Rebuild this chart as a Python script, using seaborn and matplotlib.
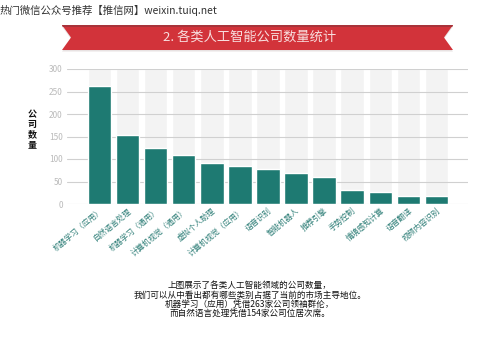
import matplotlib
matplotlib.use("Agg")
import matplotlib.pyplot as plt
from matplotlib.patches import Polygon
import seaborn as sns
import pandas as pd

categories = ["机器学习（应用）", "自然语言处理", "机器学习（通用）", "计算机视觉（通用）",
              "虚拟个人助理", "计算机视觉（应用）", "语音识别", "智能机器人", "推荐引擎",
              "手势控制", "情境感知计算", "语音翻译", "视频内容识别"]
values = [263, 154, 124, 108, 92, 85, 78, 68, 61, 32, 27, 17, 17]
yticks = [0, 50, 100, 150, 200, 250, 300]

title = "2. 各类人工智能公司数量统计"
watermark = "热门微信公众号推荐【推信网】weixin.tuiq.net"
ylabel = "公\n司\n数\n量"
caption = ["上图展示了各类人工智能领域的公司数量，",
           "我们可以从中看出都有哪些类别占据了当前的市场主导地位。",
           "机器学习（应用）凭借263家公司领袖群伦，",
           "而自然语言处理凭借154家公司位居次席。"]

sns.set_theme(style="white")
plt.rcParams['font.family'] = ['Noto Sans CJK SC', 'DejaVu Sans']

W, H = 500, 359
fig = plt.figure(figsize=(5.0, 3.59), dpi=100)
fig.patch.set_facecolor("white")

def fx(px):
    return px / W

def fy(py):
    return 1 - py / H

ax = fig.add_axes([fx(67), fy(204), fx(468) - fx(67), fy(69) - fy(204)])

df = pd.DataFrame({"cat": categories, "val": values, "bg": [max(yticks)] * len(categories)})
sns.barplot(data=df, x="cat", y="bg", color="#f3f3f3", width=0.84, ax=ax,
            saturation=1, zorder=1)
sns.barplot(data=df, x="cat", y="val", color="#1e7a72", width=0.84, ax=ax,
            saturation=1, zorder=3)

ax.set_ylim(0, 300)
ax.set_xlim(-1.15, 13.12)
ax.set_yticks(yticks)
ax.set_yticklabels([str(t) for t in yticks], fontsize=6, color="#bbbbbb")
for t in yticks:
    ax.axhline(t, color="#d0d0d0", lw=0.8, zorder=2)
ax.set_xlabel("")
ax.set_ylabel("")
ax.tick_params(axis="y", length=0, pad=3)
ax.tick_params(axis="x", length=0, pad=2)
ax.set_xticks(range(len(categories)))
ax.set_xticklabels(categories, rotation=40, ha="right", rotation_mode="anchor",
                   fontsize=5.6, color="#2f7f78")
for s in ax.spines.values():
    s.set_visible(False)
ax.set_facecolor("white")

# ribbon banner
x0, x1, y0, y1, n = 62, 453, 25, 50, 9
ym = (y0 + y1) / 2
pts = [(x0, y0), (x1, y0), (x1 - n, ym), (x1, y1), (x0, y1), (x0 + n, ym)]
fig.patches.append(Polygon([(fx(a), fy(b + 1.5)) for a, b in pts], closed=True,
                           transform=fig.transFigure, facecolor="#e8e2e2",
                           edgecolor="none", zorder=0))
fig.patches.append(Polygon([(fx(a), fy(b)) for a, b in pts], closed=True,
                           transform=fig.transFigure, facecolor="#d2333a",
                           edgecolor="none", zorder=0))
topband = [(x0, y0), (x1, y0), (x1 - 2 * n / (y1 - y0), y0 + 2), (x0 + 2 * n / (y1 - y0), y0 + 2)]
fig.patches.append(Polygon([(fx(a), fy(b)) for a, b in topband], closed=True,
                           transform=fig.transFigure, facecolor="#a8333a",
                           edgecolor="none", zorder=0))
fig.text(0.5, fy(37.5), title, ha="center", va="center", fontsize=9.5, color="#f8dede")

fig.text(0.0, fy(10), watermark, ha="left", va="center", fontsize=7.5, color="#333333")

fig.text(fx(32), fy(130), ylabel, ha="center", va="center", fontsize=6.5,
         fontweight="bold", color="#111111", linespacing=1.15)

for yy, line in zip([285, 295, 304, 313], caption):
    fig.text(0.5, fy(yy), line, ha="center", va="center", fontsize=6.2, color="#111111")

fig.savefig("out.png", dpi=100, facecolor="white")
